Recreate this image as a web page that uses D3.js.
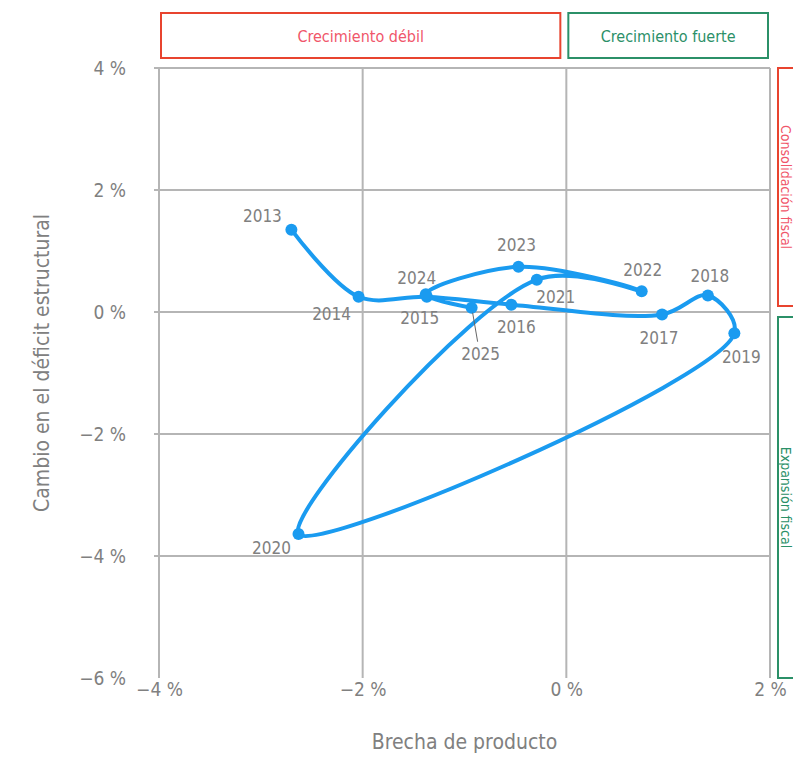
<!DOCTYPE html>
<html>
<head>
<meta charset="utf-8">
<script src="https://cdn.jsdelivr.net/npm/d3@7"></script>
<style>
  body { margin: 0; background: #fff; }
  svg text { font-family: "DejaVu Sans Condensed", "DejaVu Sans", sans-serif; font-stretch: condensed; }
</style>
</head>
<body>
<div id="chart"></div>
<script>
// years, output gap (x) and change in structural deficit (y), in %
const years = [2013, 2014, 2015, 2016, 2017, 2018, 2019, 2020, 2021, 2022, 2023, 2024, 2025];
const outputGap = [-2.70, -2.04, -1.37, -0.54, 0.94, 1.39, 1.65, -2.63, -0.29, 0.74, -0.47, -1.38, -0.93];
const deficitChange = [1.35, 0.25, 0.25, 0.12, -0.04, 0.27, -0.35, -3.64, 0.53, 0.34, 0.74, 0.29, 0.07];

const xTicks = [-4, -2, 0, 2];
const yTicks = [4, 2, 0, -2, -4, -6];

const topBoxes = ['Crecimiento débil', 'Crecimiento fuerte'];
const sideBoxes = ['Consolidación fiscal', 'Expansión fiscal'];

const red = '#e8442f';
const green = '#2b9068';
const blue = '#1a9bf0';
const grid = '#b5b5b5';
const textGrey = '#808080';

// where each year label sits relative to its point
const labelOffset = {
    2013: [-29, -14], 2014: [-27, 17], 2015: [-7, 21], 2016: [5, 22],
    2017: [-3, 24], 2018: [2, -19], 2019: [7, 24], 2020: [-27, 14],
    2021: [19, 17], 2022: [1, -21], 2023: [-2, -22], 2024: [-9, -16],
    2025: [9, 46]
};

const width = 793;
const height = 758;

const x = d3.scaleLinear().domain([-4, 2]).range([159, 770]);
const y = d3.scaleLinear().domain([-6, 4]).range([678, 68]);

const svg = d3.select('#chart')
    .append('svg')
    .attr('width', width)
    .attr('height', height);

// grid
svg.append('g')
    .selectAll('line')
    .data(yTicks.filter(d => d > -6))
    .join('line')
    .attr('x1', x(-4) - 5)
    .attr('x2', x(2))
    .attr('y1', d => y(d))
    .attr('y2', d => y(d))
    .attr('stroke', grid)
    .attr('stroke-width', 2);

svg.append('g')
    .selectAll('line')
    .data(xTicks)
    .join('line')
    .attr('x1', d => x(d))
    .attr('x2', d => x(d))
    .attr('y1', y(4))
    .attr('y2', y(-6))
    .attr('stroke', grid)
    .attr('stroke-width', 2);

const fmt = d => `${d < 0 ? '\u2212' : ''}${Math.abs(d)} %`;

const yAxis = svg.append('g')
    .attr('transform', `translate(${x(-4)},0)`)
    .call(d3.axisLeft(y).tickValues(yTicks).tickSize(0).tickPadding(33).tickFormat(fmt));

const xAxis = svg.append('g')
    .attr('transform', `translate(0,${y(-6)})`)
    .call(d3.axisBottom(x).tickValues(xTicks).tickSize(0).tickPadding(5).tickFormat(fmt));

[yAxis, xAxis].forEach(a => {
    a.select('.domain').remove();
    a.selectAll('text')
        .attr('font-size', 19)
        .attr('fill', textGrey);
});

// axis titles
svg.append('text')
    .attr('x', (x(-4) + x(2)) / 2)
    .attr('y', 749)
    .attr('text-anchor', 'middle')
    .attr('font-size', 21)
    .attr('fill', textGrey)
    .text('Brecha de producto');

svg.append('text')
    .attr('transform', `translate(49,${(y(4) + y(-6)) / 2 - 10}) rotate(-90)`)
    .attr('text-anchor', 'middle')
    .attr('font-size', 21)
    .attr('fill', textGrey)
    .text('Cambio en el déficit estructural');

// top boxes
const topSpans = [[x(-4) + 2, x(0) - 6], [x(0) + 2, x(2) - 2]];
const topG = svg.append('g')
    .selectAll('g')
    .data(topBoxes)
    .join('g');

topG.append('rect')
    .attr('x', (d, i) => topSpans[i][0])
    .attr('y', 13)
    .attr('width', (d, i) => topSpans[i][1] - topSpans[i][0])
    .attr('height', 45)
    .attr('fill', 'none')
    .attr('stroke', (d, i) => i ? green : red)
    .attr('stroke-width', 2);

topG.append('text')
    .attr('x', (d, i) => (topSpans[i][0] + topSpans[i][1]) / 2)
    .attr('y', 42)
    .attr('text-anchor', 'middle')
    .attr('font-size', 16)
    .attr('fill', (d, i) => i ? green : '#f0566a')
    .text(d => d);

// side boxes
const sideSpans = [[y(4), y(0) - 6], [y(0) + 5, y(-6)]];
const sideG = svg.append('g')
    .selectAll('g')
    .data(sideBoxes)
    .join('g');

sideG.append('rect')
    .attr('x', 778)
    .attr('y', (d, i) => sideSpans[i][0])
    .attr('width', 40)
    .attr('height', (d, i) => sideSpans[i][1] - sideSpans[i][0])
    .attr('fill', 'none')
    .attr('stroke', (d, i) => i ? green : red)
    .attr('stroke-width', 2);

sideG.append('text')
    .attr('transform', (d, i) => `translate(786,${(sideSpans[i][0] + sideSpans[i][1]) / 2}) rotate(90)`)
    .attr('dy', '0.35em')
    .attr('text-anchor', 'middle')
    .attr('font-size', 14)
    .attr('fill', (d, i) => i ? green : '#f0566a')
    .text(d => d);

// the path
const points = years.map((yr, i) => ({ year: yr, gap: outputGap[i], def: deficitChange[i] }));

const line = d3.line()
    .x(d => x(d.gap))
    .y(d => y(d.def))
    .curve(d3.curveCatmullRom.alpha(0.5));

svg.append('path')
    .datum(points)
    .attr('d', line)
    .attr('fill', 'none')
    .attr('stroke', blue)
    .attr('stroke-width', 4)
    .attr('stroke-linejoin', 'round');

svg.append('g')
    .selectAll('circle')
    .data(points)
    .join('circle')
    .attr('cx', d => x(d.gap))
    .attr('cy', d => y(d.def))
    .attr('r', 6)
    .attr('fill', blue);

// leader for 2025
const p25 = points.find(d => d.year === 2025);
svg.append('line')
    .attr('x1', x(p25.gap) + 1)
    .attr('y1', y(p25.def) + 5)
    .attr('x2', x(p25.gap) + 6)
    .attr('y2', y(p25.def) + 34)
    .attr('stroke', '#666')
    .attr('stroke-width', 1);

svg.append('g')
    .selectAll('text')
    .data(points)
    .join('text')
    .attr('x', d => x(d.gap) + labelOffset[d.year][0])
    .attr('y', d => y(d.def) + labelOffset[d.year][1])
    .attr('dy', '0.35em')
    .attr('text-anchor', 'middle')
    .attr('font-size', 17)
    .attr('fill', textGrey)
    .text(d => d.year);
</script>
</body>
</html>
